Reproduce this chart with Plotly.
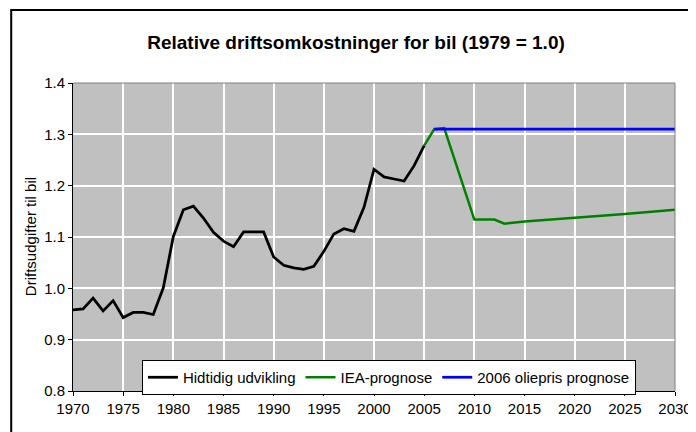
import plotly.graph_objects as go

# ---- data ----
hist_years = list(range(1970, 2006))
hist_values = [0.958, 0.960, 0.981, 0.956, 0.976, 0.943, 0.953, 0.953, 0.949, 1.001,
               1.101, 1.153, 1.160, 1.137, 1.109, 1.092, 1.081, 1.110, 1.110, 1.110,
               1.061, 1.045, 1.040, 1.037, 1.043, 1.072, 1.106, 1.116, 1.111, 1.158,
               1.232, 1.217, 1.213, 1.209, 1.239, 1.278]

iea_years = [2005, 2006, 2007, 2010, 2012, 2013, 2015, 2020, 2025, 2030]
iea_values = [1.278, 1.310, 1.312, 1.134, 1.134, 1.126, 1.130, 1.137, 1.145, 1.153]

oil_years = [2006, 2030]
oil_values = [1.310, 1.310]

series_names = ["Hidtidig udvikling", "IEA-prognose", "2006 oliepris prognose"]
x_ticks = list(range(1970, 2031, 5))
y_ticks = [0.8, 0.9, 1.0, 1.1, 1.2, 1.3, 1.4]

title_text = "Relative driftsomkostninger for bil (1979 = 1.0)"
y_title = "Driftsudgifter til bil"

FONT = "Liberation Sans, Arial, sans-serif"

fig = go.Figure()
fig.add_trace(go.Scatter(x=hist_years, y=hist_values, mode="lines", name=series_names[0],
                         line=dict(color="#000000", width=2.75)))
fig.add_trace(go.Scatter(x=iea_years, y=iea_values, mode="lines", name=series_names[1],
                         line=dict(color="#008000", width=2.5)))
fig.add_trace(go.Scatter(x=oil_years, y=oil_values, mode="lines", name=series_names[2],
                         line=dict(color="#0000FF", width=2.75)))

W, H = 696, 432
L, R, T, B = 65, 27, 75, 49
pw, ph = W - L - R, H - T - B

def px_x(p):
    return (p - L) / pw

def px_y(p):
    return 1 - (p - T) / ph

fig.update_layout(
    width=W, height=H,
    margin=dict(l=L, r=R, t=T, b=B),
    paper_bgcolor="white",
    plot_bgcolor="#C0C0C0",
    font=dict(family=FONT, size=15, color="black"),
    title=dict(text="<b>" + title_text + "</b>", x=0.5, xref="container", xanchor="center",
               y=1 - 34 / H, yref="container", yanchor="middle",
               font=dict(family=FONT, size=19, color="black")),
    xaxis=dict(range=[1970, 2030], tickvals=x_ticks, ticktext=[str(v) for v in x_ticks],
               showgrid=True, gridcolor="white", gridwidth=1.5,
               showline=True, linecolor="black", linewidth=1,
               ticks="outside", ticklen=4, tickcolor="black",
               tickfont=dict(size=15), zeroline=False),
    yaxis=dict(range=[0.8, 1.4], tickvals=y_ticks, ticktext=[f"{v:.1f}" for v in y_ticks],
               showgrid=True, gridcolor="white", gridwidth=1.5,
               showline=True, linecolor="black", linewidth=1,
               ticks="outside", ticklen=4, tickcolor="black",
               tickfont=dict(size=15), zeroline=False),
    legend=dict(orientation="h", x=px_x(382), xanchor="center", y=px_y(352), yanchor="top",
                bgcolor="white", bordercolor="black", borderwidth=1,
                font=dict(family=FONT, size=15, color="black"),
                itemwidth=30, tracegroupgap=0),
    showlegend=True,
    annotations=[dict(text=y_title, textangle=-90, xref="paper", yref="paper",
                      x=px_x(22), y=0.5, xanchor="center", yanchor="middle",
                      showarrow=False, font=dict(family=FONT, size=15, color="black"))],
    shapes=[
        # grey top/right border of plot area
        dict(type="line", xref="paper", yref="paper", x0=0, x1=1, y0=1, y1=1,
             line=dict(color="#808080", width=1)),
        dict(type="line", xref="paper", yref="paper", x0=1, x1=1, y0=0, y1=1,
             line=dict(color="#808080", width=1)),
        # outer chart border
        dict(type="rect", xref="paper", yref="paper",
             x0=px_x(3), x1=px_x(694), y0=px_y(430), y1=px_y(2),
             line=dict(color="black", width=2), fillcolor="rgba(0,0,0,0)", layer="below"),
    ],
)

fig.write_html("out.html")
